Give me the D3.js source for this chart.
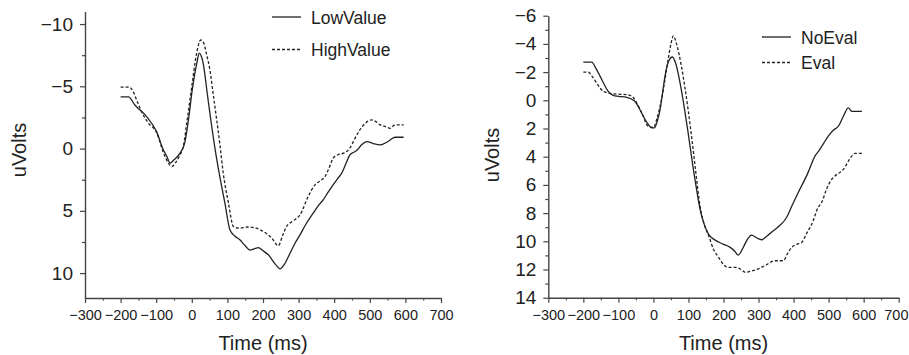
<!DOCTYPE html>
<html>
<head>
<meta charset="utf-8">
<script src="https://cdn.jsdelivr.net/npm/d3@7"></script>
<style>
  body { margin: 0; background: #fff; }
  svg { display: block; font-family: "Liberation Sans", Arial, sans-serif; }
</style>
</head>
<body>
<div id="chart"></div>
<script>
// time (ms), amplitude (uV) pairs
const lowValue = [[-200,-4.15],[-178,-4.15],[-160,-3.5],[-127,-2.57],[-99,-1.36],[-80,0.1],[-70,0.64],[-61,1.17],[-50,0.9],[-33,0.37],[-19,-0.56],[-8,-2.6],[0,-4.45],[14,-6.85],[21,-7.66],[27,-7.4],[32,-6.85],[44,-4.3],[56,-1.77],[68,0.5],[79,2.3],[93,4.38],[107,6.52],[120,7.0],[135,7.33],[150,7.8],[163,8.15],[175,8.05],[187,7.95],[200,8.2],[215,8.53],[235,9.3],[248,9.66],[260,9.3],[276,8.4],[290,7.6],[304,6.93],[320,6.1],[341,5.19],[355,4.6],[369,4.12],[383,3.5],[397,2.91],[410,2.4],[421,1.98],[433,1.2],[444,0.51],[455,0.3],[463,0.16],[477,-0.3],[491,-0.56],[510,-0.4],[529,-0.3],[550,-0.55],[571,-0.91],[595,-0.91]]
const highValue = [[-200,-4.93],[-176,-4.93],[-165,-4.6],[-155,-3.9],[-140,-2.9],[-122,-2.04],[-99,-1.3],[-80,0.3],[-65,1.2],[-56,1.44],[-45,1.1],[-35,0.6],[-24,-0.16],[-12,-2.5],[0,-5.0],[12,-7.4],[25,-8.72],[33,-8.5],[42,-7.5],[51,-6.3],[60,-4.4],[70,-2.3],[79,-0.3],[88,1.9],[103,4.38],[117,6.26],[135,6.39],[155,6.3],[173,6.34],[201,6.66],[225,7.2],[243,7.8],[255,7.0],[266,6.26],[285,5.8],[304,5.32],[327,3.85],[346,2.91],[360,2.6],[374,2.25],[385,1.6],[397,0.77],[410,0.5],[426,0.37],[444,-0.03],[458,-0.8],[472,-1.5],[490,-2.1],[505,-2.3],[515,-2.2],[529,-1.9],[545,-1.75],[557,-1.63],[571,-1.9],[595,-1.9]]
const noEval = [[-200,-2.71],[-176,-2.71],[-165,-2.3],[-152,-1.7],[-140,-1.1],[-129,-0.64],[-115,-0.35],[-100,-0.28],[-76,-0.21],[-53,0.07],[-40,0.6],[-29,1.13],[-15,1.7],[-5,1.95],[3,1.95],[12,1.4],[19,0.66],[26,-0.5],[33,-1.7],[44,-2.8],[54,-3.07],[65,-2.5],[76,-1.23],[88,0.5],[99,2.3],[114,4.9],[123,6.3],[133,7.72],[145,8.8],[157,9.49],[175,9.9],[199,10.2],[219,10.43],[232,10.7],[242,10.98],[251,10.7],[261,10.2],[270,9.8],[280,9.56],[294,9.75],[309,9.89],[325,9.6],[342,9.26],[360,8.9],[380,8.31],[395,7.5],[413,6.55],[440,5.2],[461,3.96],[475,3.48],[487,3.0],[499,2.54],[514,2.1],[528,1.84],[542,1.13],[556,0.54],[566,0.78],[595,0.78]]
const evalData = [[-200,-2.0],[-186,-2.0],[-175,-1.7],[-162,-1.23],[-150,-0.8],[-143,-0.64],[-125,-0.5],[-110,-0.45],[-76,-0.4],[-60,-0.25],[-53,-0.05],[-43,0.4],[-33,0.89],[-15,1.84],[0,1.93],[10,1.3],[23,-0.05],[33,-1.5],[42,-2.88],[50,-4.0],[57,-4.57],[66,-4.0],[80,-2.4],[90,-0.9],[99,0.66],[110,2.8],[120,4.9],[133,7.5],[145,8.8],[157,9.55],[171,10.55],[185,11.1],[199,11.61],[213,11.85],[237,11.85],[250,12.0],[263,12.2],[280,12.1],[299,11.96],[320,11.7],[347,11.38],[371,11.38],[382,10.9],[395,10.43],[410,10.2],[423,10.08],[438,9.4],[452,8.78],[470,7.6],[480,7.25],[494,6.31],[509,5.6],[518,5.37],[542,4.9],[566,3.96],[575,3.77],[595,3.77]]

const timeTicks = [-300, -200, -100, 0, 100, 200, 300, 400, 500, 600, 700]
const timeMinor = [-250, -150, -50, 50, 150, 250, 350, 450, 550, 650]
const leftTicks = [-10, -5, 0, 5, 10]
const leftMinor = [-7.5, -2.5, 2.5, 7.5]
const rightTicks = [-6, -4, -2, 0, 2, 4, 6, 8, 10, 12, 14]
const rightMinor = [-5, -3, -1, 1, 3, 5, 7, 9, 11, 13]

const panels = [
  {x0: 85, x1: 441, y0: 11.6, y1: 298, yDomain: [-11, 12], yTicks: leftTicks, yMinor: leftMinor,
   series: [{name: 'LowValue', data: lowValue, dash: null}, {name: 'HighValue', data: highValue, dash: '3,2'}],
   legend: {x: 272, y: 17, gap: 32.5}, yLabelX: 19, yLabelY: 150},
  {x0: 548.3, x1: 898.7, y0: 15.7, y1: 297.7, yDomain: [-6, 14], yTicks: rightTicks, yMinor: rightMinor,
   series: [{name: 'NoEval', data: noEval, dash: null}, {name: 'Eval', data: evalData, dash: '3,2'}],
   legend: {x: 762, y: 37, gap: 25.5}, yLabelX: 492, yLabelY: 155}
]

const fmt = (d) => d < 0 ? '\u2212' + Math.abs(d) : String(d)
const ink = '#222'
const W = 909

const svg = d3.select('#chart')
  .append('svg')
  .attr('width', W)
  .attr('height', 355)

panels.forEach((p) => {
  const x = d3.scaleLinear().domain([-300, 700]).range([p.x0, p.x1])
  const y = d3.scaleLinear().domain(p.yDomain).range([p.y0, p.y1])
  const g = svg.append('g')

  // minor ticks first
  g.append('g')
    .attr('transform', `translate(0,${p.y1})`)
    .call(d3.axisBottom(x).tickValues(timeMinor).tickSize(2.5).tickSizeOuter(0).tickFormat(''))
    .call((a) => a.select('.domain').remove())
  g.append('g')
    .attr('transform', `translate(${p.x0},0)`)
    .call(d3.axisLeft(y).tickValues(p.yMinor).tickSize(3).tickSizeOuter(0).tickFormat(''))
    .call((a) => a.select('.domain').remove())

  const xAxis = g.append('g')
    .attr('transform', `translate(0,${p.y1})`)
    .call(d3.axisBottom(x).tickValues(timeTicks).tickSize(5).tickSizeOuter(0).tickPadding(7).tickFormat(fmt))
  xAxis.selectAll('text').attr('font-size', 14.5).attr('fill', ink)
  // keep the last label inside the page
  xAxis.selectAll('text').each(function () {
    const t = d3.select(this)
    const box = this.getBBox()
    const tx = x(t.datum())
    if (tx + box.width / 2 > W - 1) {
      t.attr('text-anchor', 'end').attr('x', W - 1 - tx)
    }
  })

  const yAxis = g.append('g')
    .attr('transform', `translate(${p.x0},0)`)
    .call(d3.axisLeft(y).tickValues(p.yTicks).tickSize(5).tickSizeOuter(0).tickPadding(7).tickFormat(fmt))
  yAxis.selectAll('text').attr('font-size', 19).attr('fill', ink)

  g.selectAll('.domain').attr('stroke', '#444').attr('stroke-width', 1.4)
  g.selectAll('.tick line').attr('stroke', '#444').attr('stroke-width', 1.2)

  const line = d3.line()
    .x((d) => x(d[0]))
    .y((d) => y(d[1]))
    .curve(d3.curveMonotoneX)

  p.series.forEach((s, i) => {
    g.append('path')
      .datum(s.data)
      .attr('fill', 'none')
      .attr('stroke', ink)
      .attr('stroke-width', 1.3)
      .attr('stroke-dasharray', s.dash)
      .attr('d', line)

    const ly = p.legend.y + i * p.legend.gap
    g.append('line')
      .attr('x1', p.legend.x).attr('x2', p.legend.x + 29)
      .attr('y1', ly).attr('y2', ly)
      .attr('stroke', ink)
      .attr('stroke-width', 1.3)
      .attr('stroke-dasharray', s.dash)
    g.append('text')
      .attr('x', p.legend.x + 39)
      .attr('y', ly + 6.5)
      .attr('font-size', 17.5)
      .attr('fill', ink)
      .text(s.name)
  })

  g.append('text')
    .attr('x', (p.x0 + p.x1) / 2)
    .attr('y', 350)
    .attr('text-anchor', 'middle')
    .attr('font-size', 20)
    .attr('fill', ink)
    .text('Time (ms)')

  g.append('text')
    .attr('transform', `translate(${p.yLabelX + 7},${p.yLabelY}) rotate(-90)`)
    .attr('text-anchor', 'middle')
    .attr('font-size', 20)
    .attr('fill', ink)
    .text('uVolts')
})
</script>
</body>
</html>
